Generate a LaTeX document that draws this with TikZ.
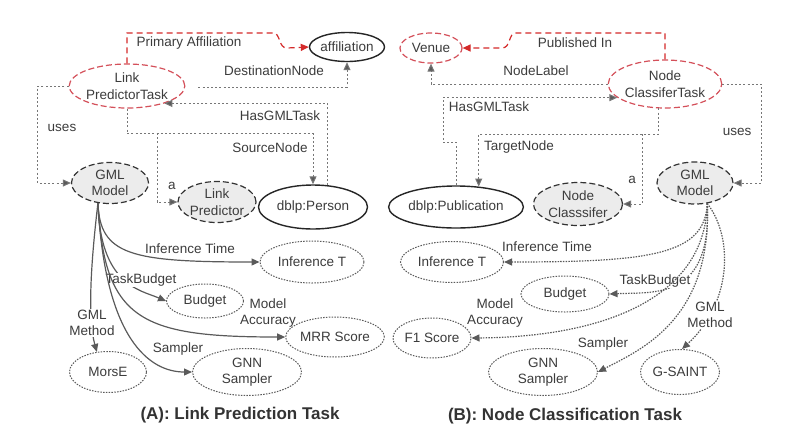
\documentclass[tikz,border=0pt]{standalone}
\usepackage{fontspec}
\setmainfont{Liberation Sans}
\usetikzlibrary{arrows.meta,shapes.geometric,calc}
\definecolor{ln}{HTML}{5A5A5A}
\definecolor{cn}{HTML}{777777}
\definecolor{tx}{HTML}{3C3C3C}
\definecolor{rd}{HTML}{D42A2A}
\definecolor{rdb}{HTML}{D4505A}
\definecolor{gf}{HTML}{ECECEC}
\begin{document}
\begin{tikzpicture}[x=1pt,y=-1pt,
  font=\fontsize{13.5}{16.5}\selectfont, text=tx,
  ell/.style={ellipse, draw=ln, line width=1pt, inner sep=0pt, align=center},
  solidE/.style={ell, line width=1.4pt, draw=black!85, fill=white},
  taskE/.style={ell, line width=1.2pt, draw=rdb, dash pattern=on 6pt off 3pt, fill=white},
  modelE/.style={ell, line width=1.2pt, draw=black!80, dash pattern=on 6pt off 3pt, fill=gf},
  valE/.style={ell, dash pattern=on 1.5pt off 1.3pt, fill=white},
  tip/.style={-{Triangle[length=8pt,width=7pt]}},
  con/.style={draw=cn, line width=1pt, dash pattern=on 2pt off 2.2pt, -{Triangle[length=8pt,width=7pt,fill=ln]}},
  redc/.style={draw=rd, line width=1.2pt, dash pattern=on 6pt off 4pt, -{Triangle[length=8pt,width=7pt,fill=rd]}},
  solc/.style={draw=ln, line width=1.2pt, tip},
  dotc/.style={draw=ln, line width=1.2pt, dash pattern=on 1.5pt off 1.2pt, tip},
  lbl/.style={inner sep=1pt, align=center},
  wlbl/.style={lbl, fill=white},
  ttl/.style={font=\bfseries\fontsize{17}{20}\selectfont, text=black!80}
]
\useasboundingbox (0,0) rectangle (800,445);

% ---------- left panel nodes ----------
\node[taskE, minimum width=110, minimum height=44] (lpt) at (127,86) {Link\\PredictorTask};
\node[solidE, minimum width=71, minimum height=29] (aff) at (347,47) {affiliation};
\node[modelE, minimum width=77, minimum height=41] (gmL) at (110,183) {GML\\Model};
\node[modelE, minimum width=78, minimum height=41] (lp) at (217,202) {Link\\Predictor};
\node[solidE, minimum width=109, minimum height=44] (per) at (313,207) {dblp:Person};
\node[valE, minimum width=104, minimum height=42] (infL) at (312,262) {Inference T};
\node[valE, minimum width=77, minimum height=34] (budL) at (205,301) {Budget};
\node[valE, minimum width=81, minimum height=40] (mrr) at (335,337) {MRR Score};
\node[valE, minimum width=77, minimum height=41] (mor) at (108,372) {MorsE};
\node[valE, minimum width=109, minimum height=47] (gnnL) at (247,372) {GNN\\Sampler};
\node[ttl] (tA) at (240,415) {(A): Link Prediction Task};

% ---------- right panel nodes ----------
\node[taskE, minimum width=62, minimum height=30] (ven) at (431,48) {Venue};
\node[taskE, minimum width=109, minimum height=48] (nct) at (665,84) {Node\\ClassiferTask};
\node[modelE, minimum width=76, minimum height=42] (gmR) at (695,183) {GML\\Model};
\node[modelE, minimum width=89, minimum height=43] (nc) at (578,204) {Node\\Classsifer};
\node[solidE, minimum width=128, minimum height=42] (pub) at (456,207) {dblp:Publication};
\node[valE, minimum width=103, minimum height=41] (infR) at (452,262) {Inference T};
\node[valE, minimum width=88, minimum height=36] (budR) at (565,294) {Budget};
\node[valE, minimum width=78, minimum height=40] (f1) at (432,338) {F1 Score};
\node[valE, minimum width=109, minimum height=47] (gnnR) at (543,372) {GNN\\Sampler};
\node[valE, minimum width=79, minimum height=45] (gs) at (680,372) {G-SAINT};
\node[ttl] (tB) at (565,416) {(B): Node Classification Task};

% ---------- left panel connectors ----------
\draw[redc] (lpt.north) |- (273,33) .. controls (281,33) and (278,48) .. (287,48) -- (aff.west);
\node[lbl] (lPA) at (189,43) {Primary Affiliation};
\draw[con] ($(lpt.east)+(13,1)$) -| (aff.south);
\node[lbl] (lDN) at (274,71) {DestinationNode};
\draw[con] (per.57) |- (lpt.-25);
\node[lbl] (lHG) at (280,116) {HasGMLTask};
\draw[con] (lpt.south) -- ++(0,25) -| (per.north);
\node[lbl] (lSN) at (270,148) {SourceNode};
\coordinate (brL) at (157,133);
\draw[con] (brL) |- (lp.west);
\node[lbl] (la) at (172,186) {a};
\draw[con] (lpt.west) -- ++(-31,0) |- (gmL.west);
\node[lbl] (lus) at (62,128) {uses};

% curves from GML Model (left)
\draw[solc] (gmL.239) .. controls (90,270) and (88,320) .. (mor.119);
\node[wlbl] (lGM) at (92,323) {GML\\Method};
\draw[solc] (gmL.239) .. controls (100,285) and (140,290) .. (budL.west);
\node[wlbl, inner sep=0.5pt] (lTB) at (141,280) {TaskBudget};
\draw[solc] (gmL.239) .. controls (100,255) and (130,262) .. (infL.west);
\node[lbl] (lIT) at (190,249) {Inference Time};
\draw[solc] (gmL.239) .. controls (104,320) and (140,337) .. (mrr.west);
\node[lbl] (lMA) at (268,313) {Model\\Accuracy};
\draw[solc] (gmL.239) .. controls (105,340) and (150,372) .. (gnnL.west);
\node[lbl] (lSa) at (178,349) {Sampler};

% ---------- right panel connectors ----------
\draw[redc] (nct.north) |- (516,33) .. controls (508,33) and (511,48) .. (502,48) -- (ven.east);
\node[lbl] (rPI) at (575,43) {Published In};
\draw[con] (nct.west) -| (ven.south);
\node[lbl] (rNL) at (536,71) {NodeLabel};
\draw[con] (pub.north) -- (456,142) -- (443,142) |- (nct.196);
\node[lbl] (rHG) at (489,107) {HasGMLTask};
\draw[con] (nct.254) -- ++(0,26) -| (pub.42);
\node[lbl] (rTN) at (519,147) {TargetNode};
\coordinate (brR) at (642,134);
\draw[con] (brR) |- (nc.east);
\node[lbl] (ra) at (632,180) {a};
\draw[con] (nct.east) -- ++(39,0) |- (gmR.east);
\node[lbl] (rus) at (737,132) {uses};

% curves from GML Model (right)
\draw[dotc] (gmR.301) .. controls (735,240) and (730,305) .. (gs.85);
\node[wlbl] (rGM) at (710,315) {GML\\Method};
\draw[dotc] (gmR.301) .. controls (712,300) and (655,292) .. (budR.east);
\node[wlbl, inner sep=0.5pt] (rTB) at (655,281) {TaskBudget};
\draw[dotc] (gmR.301) .. controls (705,255) and (650,262) .. (infR.east);
\node[lbl] (rIT) at (547,247) {Inference Time};
\draw[dotc] (gmR.301) .. controls (705,300) and (600,337) .. (f1.east);
\node[lbl] (rMA) at (495,313) {Model\\Accuracy};
\draw[dotc] (gmR.301) .. controls (712,320) and (640,350) .. (gnnR.east);
\node[lbl] (rSa) at (603,344) {Sampler};
\end{tikzpicture}
\end{document}
